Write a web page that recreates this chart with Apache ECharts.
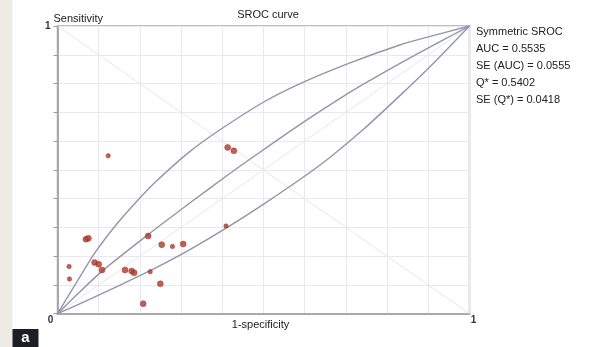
<!DOCTYPE html>
<html>
<head>
<meta charset="utf-8">
<title>SROC curve</title>
<script src="https://cdn.jsdelivr.net/npm/echarts@6/dist/echarts.min.js"></script>
<style>
  html, body { margin: 0; padding: 0; background: #ffffff; }
  #main { width: 605px; height: 347px; }
</style>
</head>
<body>
<div id="main"></div>
<script>
// tick labels shown on the axes (only the ends are labelled)
var xTickLabels = ['0', '1'];
var yTickLabels = ['1'];

// text block on the right
var statLines = [
  'Symmetric SROC',
  'AUC = 0.5535',
  'SE (AUC) = 0.0555',
  'Q* = 0.5402',
  'SE (Q*) = 0.0418'
];

// curves as [1-specificity, sensitivity]
var srocCurve = [
  [0, 0], [0.05, 0.07], [0.108, 0.148], [0.22, 0.275], [0.326, 0.39],
  [0.419, 0.488], [0.479, 0.549], [0.589, 0.658], [0.71, 0.77],
  [0.767, 0.818], [0.872, 0.902], [1, 1]
];
var upperCurve = [
  [0, 0], [0.0425, 0.1], [0.091, 0.212], [0.14, 0.305], [0.192, 0.39],
  [0.237, 0.457], [0.318, 0.56], [0.39, 0.635], [0.4995, 0.735],
  [0.589, 0.8], [0.71, 0.872], [0.831, 0.934], [0.9, 0.962], [1, 1]
];
var lowerCurve = [
  [0, 0], [0.075, 0.048], [0.156, 0.102], [0.237, 0.158], [0.318, 0.22],
  [0.42, 0.307], [0.4995, 0.38], [0.597, 0.475], [0.661, 0.543],
  [0.742, 0.64], [0.831, 0.758], [0.912, 0.87], [1, 1]
];

// reference diagonals
var chanceLine = [[0, 0], [1, 1]];
var antiDiagonal = [[0, 1], [1, 0]];

// studies
var studies = [
  [0.069, 0.259], [0.075, 0.262], [0.09, 0.178], [0.1, 0.172],
  [0.108, 0.152], [0.164, 0.152], [0.18, 0.148], [0.186, 0.142],
  [0.208, 0.035], [0.22, 0.27], [0.2495, 0.104], [0.253, 0.24],
  [0.305, 0.242], [0.413, 0.578], [0.428, 0.566]
];
var smallStudies = [
  [0.028, 0.164], [0.029, 0.121], [0.225, 0.146], [0.279, 0.234],
  [0.409, 0.305], [0.123, 0.549]
];

var fontFamily = '"Liberation Sans", Arial, sans-serif';
var curveColor = '#9394ae';
var dotColor = '#b0382a';

var myChart = echarts.init(document.getElementById('main'));

var option = {
  animation: false,
  backgroundColor: '#ffffff',
  title: {
    text: 'SROC curve',
    left: 263,
    top: 4,
    textAlign: 'center',
    textStyle: { fontFamily: fontFamily, fontSize: 11, fontWeight: 'normal', color: '#222' }
  },
  grid: {
    left: 57.5,
    right: 135.5,
    top: 26,
    bottom: 33.3,
    show: true,
    borderColor: '#a9a9a9',
    borderWidth: 1.5
  },
  xAxis: {
    type: 'value',
    min: 0,
    max: 1,
    interval: 0.1,
    name: '1-specificity',
    nameLocation: 'middle',
    nameGap: 6,
    nameMoveOverlap: false,
    nameTextStyle: { fontFamily: fontFamily, fontSize: 11, color: '#222', padding: [0, 0, 0, -6] },
    axisLine: { lineStyle: { color: '#a9a9a9', width: 2 } },
    axisTick: { show: false },
    axisLabel: {
      margin: 2,
      formatter: function (v) {
        if (v === 0) return '{l|' + xTickLabels[0] + '}';
        if (v === 1) return '{r|' + xTickLabels[1] + '}';
        return '';
      },
      rich: {
        l: { fontFamily: fontFamily, fontSize: 10, fontWeight: 'bold', color: '#333', padding: [0, 14, 0, 0] },
        r: { fontFamily: fontFamily, fontSize: 10, fontWeight: 'bold', color: '#333', padding: [0, 0, 0, 8] }
      }
    },
    splitLine: { lineStyle: { color: '#e8e8ee', width: 1 } }
  },
  yAxis: {
    type: 'value',
    min: 0,
    max: 1,
    interval: 0.1,
    name: 'Sensitivity',
    nameLocation: 'end',
    nameGap: 2,
    nameMoveOverlap: false,
    nameTextStyle: { fontFamily: fontFamily, fontSize: 11, color: '#222', align: 'left', padding: [0, 0, 0, -4] },
    axisLine: { show: true, lineStyle: { color: '#a9a9a9', width: 2 } },
    axisTick: { show: true, length: 4, lineStyle: { color: '#999' } },
    axisLabel: {
      margin: 7,
      fontFamily: fontFamily,
      fontSize: 10,
      fontWeight: 'bold',
      color: '#333',
      formatter: function (v) {
        return v === 1 ? yTickLabels[0] : '';
      }
    },
    splitLine: { lineStyle: { color: '#e8e8ee', width: 1 } }
  },
  series: [
    {
      type: 'line', data: chanceLine, symbol: 'none', silent: true,
      lineStyle: { color: '#e6e6ec', width: 1 }, z: 1
    },
    {
      type: 'line', data: antiDiagonal, symbol: 'none', silent: true,
      lineStyle: { color: '#e6e6ec', width: 1 }, z: 1
    },
    {
      type: 'line', data: upperCurve, symbol: 'none', smooth: 0.25,
      lineStyle: { color: curveColor, width: 1.4 }, z: 2
    },
    {
      type: 'line', data: srocCurve, symbol: 'none', smooth: 0.25,
      lineStyle: { color: curveColor, width: 1.4 }, z: 2
    },
    {
      type: 'line', data: lowerCurve, symbol: 'none', smooth: 0.25,
      lineStyle: { color: curveColor, width: 1.4 }, z: 2
    },
    {
      type: 'scatter', data: studies, symbolSize: 6,
      itemStyle: { color: dotColor, borderColor: '#962a1e', borderWidth: 0.5 }, z: 5
    },
    {
      type: 'scatter', data: smallStudies, symbolSize: 4.5,
      itemStyle: { color: dotColor, borderColor: '#962a1e', borderWidth: 0.5 }, z: 5
    }
  ],
  graphic: [
    // beige strip on the left edge
    { type: 'rect', left: 0, top: 0, shape: { width: 12.5, height: 347 }, style: { fill: '#edebe3' }, silent: true },
    // panel letter
    {
      type: 'group', left: 12.5, top: 329,
      children: [
        { type: 'rect', shape: { width: 26, height: 18 }, style: { fill: '#1d1d26' } },
        { type: 'text', x: 13, y: 9, style: { text: 'a', fill: '#ffffff', font: 'bold 15px ' + fontFamily, textAlign: 'center', textVerticalAlign: 'middle' } }
      ]
    },
    {
      type: 'text', left: 476, top: 23,
      style: { text: statLines.join('\n'), fill: '#222', font: '11px ' + fontFamily, lineHeight: 17 }
    }
  ]
};

myChart.setOption(option);
</script>
</body>
</html>
